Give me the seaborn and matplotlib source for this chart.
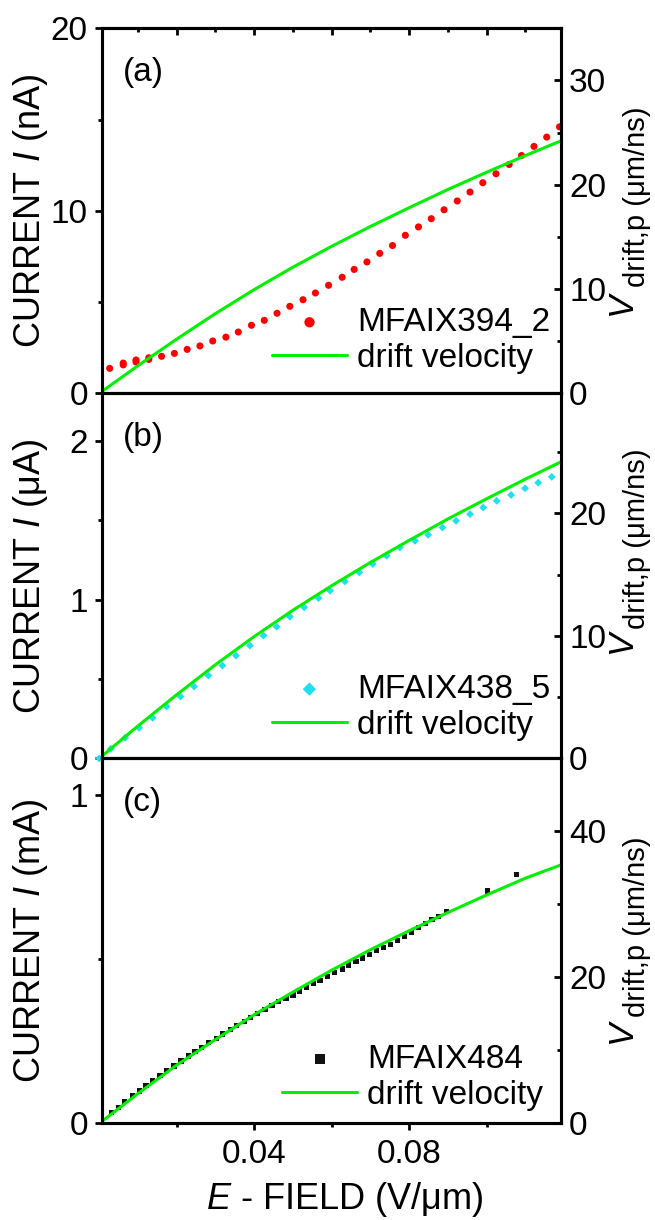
import numpy as np
import pandas as pd
import matplotlib
matplotlib.use('Agg')
import matplotlib.pyplot as plt
import seaborn as sns
from matplotlib.ticker import MultipleLocator, FormatStrFormatter

# panel (a): MFAIX394_2, current in nA
field_a = [0.0027, 0.0062, 0.0062, 0.0095, 0.0095, 0.0128, 0.0128, 0.0161, 0.0194,
           0.0227, 0.0260, 0.0293, 0.0327, 0.0359, 0.0393, 0.0426, 0.0459, 0.0492,
           0.0526, 0.0558, 0.0592, 0.0627, 0.0658, 0.0691, 0.0724, 0.0757, 0.0790,
           0.0824, 0.0857, 0.0890, 0.0924, 0.0957, 0.0990, 0.1024, 0.1058, 0.1090,
           0.1122, 0.1155, 0.1188]
current_a = [1.37, 1.56, 1.66, 1.72, 1.83, 1.86, 1.95, 2.03, 2.19,
             2.41, 2.60, 2.87, 3.08, 3.36, 3.73, 4.00, 4.39, 4.77,
             5.13, 5.50, 5.92, 6.36, 6.79, 7.20, 7.67, 8.10, 8.66,
             9.12, 9.57, 10.06, 10.54, 11.03, 11.54, 12.03, 12.54, 13.03,
             13.53, 14.04, 14.60]

# panel (b): MFAIX438_5, current in uA
field_b = [0.0, 0.0030, 0.0067, 0.0103, 0.0138, 0.0174, 0.0210, 0.0245, 0.0282,
           0.0318, 0.0353, 0.0389, 0.0424, 0.0458, 0.0492, 0.0529, 0.0566, 0.0596,
           0.0634, 0.0671, 0.0706, 0.0742, 0.0776, 0.0815, 0.0849, 0.0886, 0.0921,
           0.0957, 0.0991, 0.1026, 0.1063, 0.1099, 0.1133, 0.1168]
current_b = [0.0, 0.061, 0.130, 0.193, 0.256, 0.327, 0.390, 0.453, 0.522,
             0.585, 0.648, 0.711, 0.774, 0.830, 0.893, 0.952, 1.010, 1.057,
             1.115, 1.172, 1.225, 1.277, 1.329, 1.371, 1.409, 1.455, 1.497,
             1.539, 1.581, 1.623, 1.660, 1.702, 1.737, 1.774]

# panel (c): MFAIX484, current in mA
field_c = [0.0032, 0.0049, 0.0066, 0.0085, 0.0103, 0.0121, 0.0138, 0.0157, 0.0174,
           0.0193, 0.0211, 0.0230, 0.0247, 0.0265, 0.0283, 0.0302, 0.0319, 0.0338,
           0.0355, 0.0374, 0.0391, 0.0408, 0.0428, 0.0446, 0.0463, 0.0482, 0.0500,
           0.0517, 0.0536, 0.0553, 0.0570, 0.0589, 0.0607, 0.0627, 0.0644, 0.0663,
           0.0680, 0.0698, 0.0715, 0.0734, 0.0751, 0.0770, 0.0788, 0.0806, 0.0825,
           0.0842, 0.0859, 0.0876, 0.0896, 0.1003, 0.1077]
current_c = [0.033, 0.049, 0.066, 0.084, 0.099, 0.115, 0.130, 0.145, 0.161,
             0.175, 0.190, 0.205, 0.219, 0.232, 0.247, 0.259, 0.272, 0.285,
             0.297, 0.310, 0.323, 0.335, 0.346, 0.358, 0.370, 0.381, 0.391,
             0.401, 0.414, 0.425, 0.434, 0.447, 0.459, 0.470, 0.482, 0.492,
             0.503, 0.514, 0.525, 0.535, 0.545, 0.557, 0.569, 0.582, 0.595,
             0.607, 0.620, 0.630, 0.644, 0.707, 0.757]

# drift velocity curves (right axes, um/ns)
drift_field = [0.0, 0.01, 0.02, 0.03, 0.04, 0.05, 0.06, 0.07, 0.08, 0.09, 0.10, 0.11, 0.1191]
drift_v_ab = [0.0, 2.65, 5.2, 7.65, 9.95, 12.1, 14.1, 16.0, 17.8, 19.55, 21.2, 22.8, 24.2]
drift_v_c = [0.0, 4.1, 8.0, 11.5, 14.9, 18.0, 21.0, 23.8, 26.4, 28.9, 31.3, 33.6, 35.4]

sns.set_theme(style='ticks')
plt.rcParams['font.family'] = ['Liberation Sans', 'DejaVu Sans']
plt.rcParams['mathtext.fontset'] = 'custom'
plt.rcParams['mathtext.rm'] = 'Liberation Sans'
plt.rcParams['mathtext.it'] = 'Liberation Sans:italic'
for key in ('text.color', 'axes.labelcolor', 'xtick.color', 'ytick.color'):
    plt.rcParams[key] = 'black'

GREEN = '#00F000'
FS = 24

panels = [
    dict(x=field_a, y=current_a, name='MFAIX394_2', color='#FF0000', marker='o', s=26,
         mscale=1.45, v=drift_v_ab, ylim=(0, 20), ymaj=10, ymin=5, vlim=(0, 35), vmaj=10, vmin=5,
         ylabel='CURRENT $\\mathit{I}$ (nA)', tag='(a)', leg=(0.977, 0.053), vpos=(0.245, 0.538)),
    dict(x=field_b, y=current_b, name='MFAIX438_5', color='#1EE0F0', marker='D', s=16,
         mscale=1.7, v=drift_v_ab, ylim=(0, 2.3), ymaj=1, ymin=0.5, vlim=(0, 29.8), vmaj=10, vmin=5,
         ylabel='CURRENT $\\mathit{I}$ (μA)', tag='(b)', leg=(0.977, 0.048), vpos=(0.32, 0.602)),
    dict(x=field_c, y=current_c, name='MFAIX484', color='#111111', marker='s', s=14,
         mscale=2.0, v=drift_v_c, ylim=(0, 1.11), ymaj=1, ymin=0.5, vlim=(0, 50), vmaj=20, vmin=10,
         ylabel='CURRENT $\\mathit{I}$ (mA)', tag='(c)', leg=(0.962, 0.035), vpos=(0.253, 0.540)),
]

fig, axes = plt.subplots(3, 1, figsize=(6.55, 12.2), dpi=100, sharex=True)
fig.subplots_adjust(left=0.1553, right=0.856, top=0.9768, bottom=0.0791, hspace=0)

for ax, p in zip(axes, panels):
    sns.scatterplot(x=p['x'], y=p['y'], ax=ax, color=p['color'], marker=p['marker'],
                    s=p['s'], edgecolor='none', label=p['name'],
                    clip_on=(p['marker'] != 'D'))
    if ax.get_legend() is not None:
        ax.get_legend().remove()

    ax2 = ax.twinx()
    sns.lineplot(x=drift_field, y=p['v'], ax=ax2, color=GREEN, lw=2.2,
                 label='drift velocity')

    ax.set_ylim(*p['ylim'])
    ax.yaxis.set_major_locator(MultipleLocator(p['ymaj']))
    ax.yaxis.set_minor_locator(MultipleLocator(p['ymin']))
    ax.yaxis.set_major_formatter(FormatStrFormatter('%g'))
    ax2.set_ylim(*p['vlim'])
    ax2.yaxis.set_major_locator(MultipleLocator(p['vmaj']))
    ax2.yaxis.set_minor_locator(MultipleLocator(p['vmin']))
    ax2.yaxis.set_major_formatter(FormatStrFormatter('%g'))

    ax.set_ylabel(p['ylabel'], fontsize=26)
    ax.yaxis.set_label_coords(-0.113, 0.5)
    # right label: big italic V with a smaller "drift,p (μm/ns)" subscript
    ax2.set_ylabel('')
    ax2.text(1.1335, p['vpos'][0], 'V', style='italic', fontsize=25, rotation=90,
             ha='center', va='center', transform=ax2.transAxes)
    ax2.text(1.167, p['vpos'][1], 'drift,p (μm/ns)', fontsize=21, rotation=90,
             ha='center', va='center', transform=ax2.transAxes)

    ax.tick_params(axis='y', which='both', direction='out', left=True, right=False,
                   labelsize=FS, width=2, pad=5, color='black')
    ax.tick_params(axis='x', which='both', direction='out', bottom=True, top=False,
                   labelsize=FS, width=2, pad=6, color='black')
    ax2.tick_params(axis='y', which='both', direction='in', right=True,
                    labelsize=FS, width=2, pad=6, color='black')
    for a in (ax, ax2):
        a.tick_params(which='major', length=5)
        a.tick_params(which='minor', length=3)
        for sp in a.spines.values():
            sp.set_linewidth(2.2)
            sp.set_color('black')

    ax.text(0.046, 0.88, p['tag'], transform=ax.transAxes, fontsize=FS, va='center')

    h1, l1 = ax.get_legend_handles_labels()
    h2, l2 = ax2.get_legend_handles_labels()
    ax2.legend(h1 + h2, l1 + l2, loc='lower right', bbox_to_anchor=p['leg'],
               frameon=False, fontsize=FS, borderaxespad=0, borderpad=0,
               handlelength=2.25, handletextpad=0.3, labelspacing=0.15,
               markerscale=p['mscale'])

# top ticks of the first panel
sec = axes[0].secondary_xaxis('top')
sec.xaxis.set_major_locator(MultipleLocator(0.02))
sec.xaxis.set_minor_locator(MultipleLocator(0.01))
sec.tick_params(which='both', direction='in', width=2, labeltop=False, color='black')
sec.tick_params(which='major', length=5)
sec.tick_params(which='minor', length=3)
sec.spines['top'].set_linewidth(2.2)

axes[2].set_xlim(0.00065, 0.1191)
axes[2].xaxis.set_major_locator(MultipleLocator(0.04))
axes[2].xaxis.set_minor_locator(MultipleLocator(0.02))
axes[2].xaxis.set_major_formatter(FormatStrFormatter('%.2f'))
axes[2].set_xlabel('$\\mathit{E}$ - FIELD (V/μm)', fontsize=26)
axes[2].xaxis.set_label_coords(0.53, -0.156)

fig.savefig('out.png', dpi=100)
